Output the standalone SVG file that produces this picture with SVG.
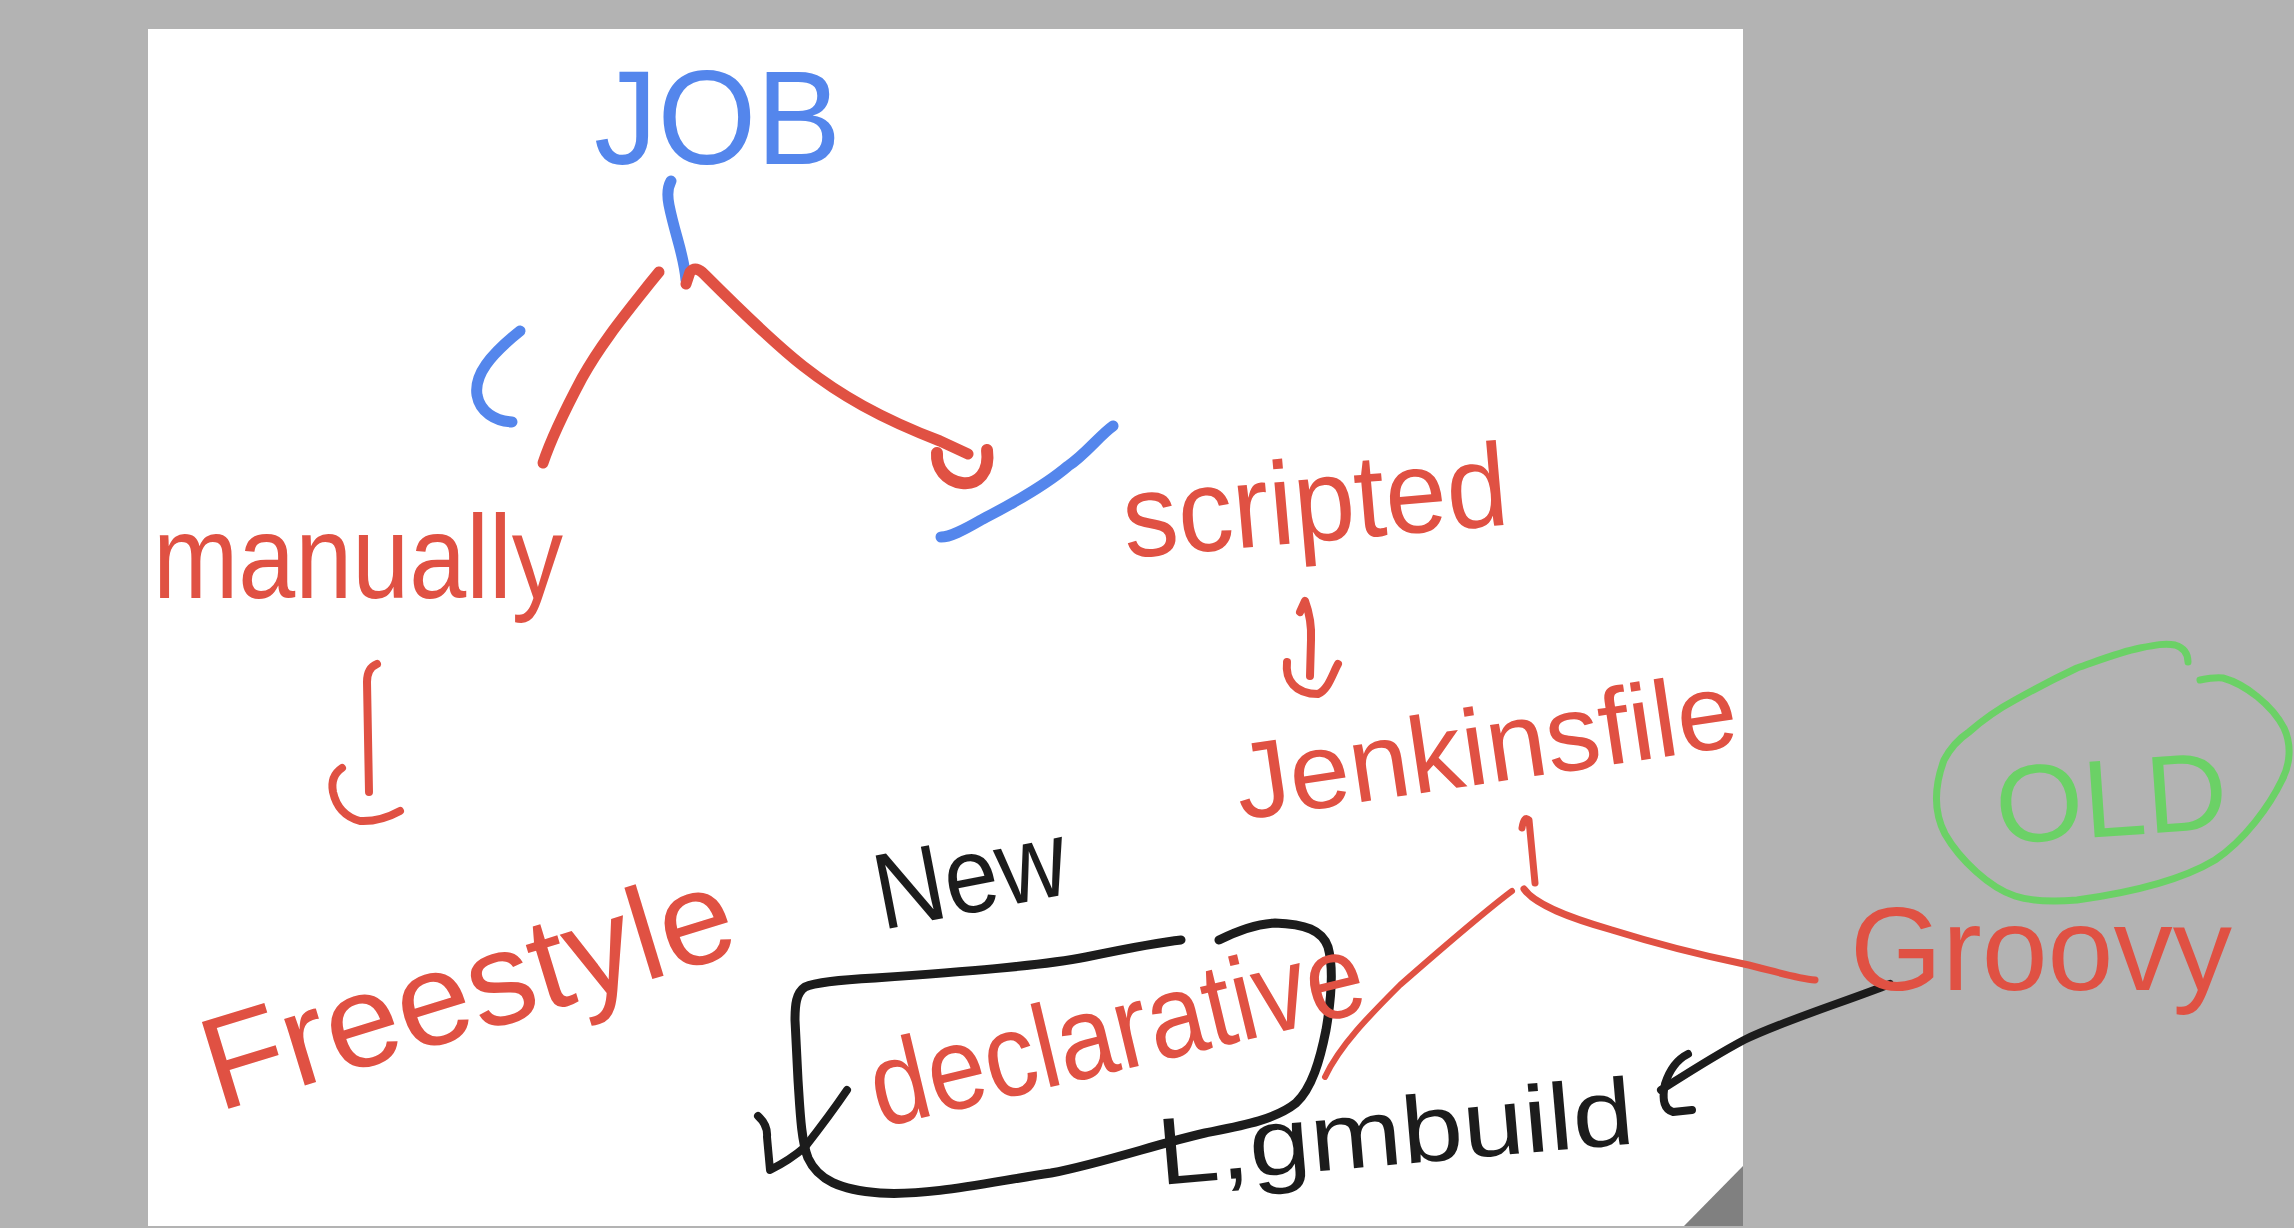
<svg xmlns="http://www.w3.org/2000/svg" width="2294" height="1228" viewBox="0 0 2294 1228">
<style>
.t{font-family:"Liberation Sans","Noto Sans",sans-serif;font-weight:normal}
.red{fill:#e05143}
.blue{fill:#5486ec}
.black{fill:#1c1c1c}
.green{fill:#6bd166}
.s{fill:none;stroke-linecap:round;stroke-linejoin:round}
.sr{stroke:#e05143}
.sb{stroke:#5486ec}
.sk{stroke:#1c1c1c}
.sg{stroke:#6bd166}
</style>
<rect x="0" y="0" width="2294" height="1228" fill="#b3b3b3"/>
<rect x="148" y="29" width="1595" height="1197" fill="#ffffff"/>
<polygon points="1684,1226 1743,1166 1743,1226" fill="#808080"/>

<g id="connectors">
  <path class="s sb" stroke-width="11" d="M 671 181 Q 666 190 669 205 C 675 235 684 255 686 280"/>
  <path class="s sr" stroke-width="11" d="M 659 272 L 650 283 C 628 311 602 342 582 378 C 565 410 552 436 543 463"/>
  <path class="s sr" stroke-width="11" d="M 686 284 L 690 272 Q 696 265 705 275 C 730 300 770 340 803 366 C 840 395 880 418 940 441 L 968 454"/>
  <path class="s sr" stroke-width="12" d="M 987 450 C 990 472 978 485 962 483 C 946 481 936 468 937 453"/>
  <path class="s sb" stroke-width="11" d="M 520 331 C 490 355 474 375 477 395 C 480 412 495 421 512 422"/>
  <path class="s sb" stroke-width="11" d="M 1113 426 C 1100 435 1085 455 1068 466 C 1040 490 1000 510 981 520 C 962 531 950 537 941 537"/>
  <path class="s sr" stroke-width="8" d="M 377 664 Q 367 668 367 682 L 369 792"/>
  <path class="s sr" stroke-width="8" d="M 342 768 Q 330 776 333 792 Q 338 815 360 821 Q 380 822 400 811"/>
  <path class="s sr" stroke-width="8" d="M 1300 612 L 1305 601 Q 1312 620 1311 640 L 1310 676"/>
  <path class="s sr" stroke-width="8" d="M 1287 662 C 1285 680 1295 694 1318 694 C 1328 690 1332 675 1338 664"/>
  <path class="s sr" stroke-width="7" d="M 1522 828 Q 1524 815 1529 820 L 1535 883"/>
  <path class="s sr" stroke-width="6" d="M 1512 891 C 1480 915 1440 950 1400 985 C 1370 1015 1340 1045 1325 1077"/>
  <path class="s sr" stroke-width="7" d="M 1524 889 C 1535 905 1570 918 1612 930 C 1660 945 1700 955 1744 964 C 1770 970 1795 978 1815 980"/>
  <path class="s sk" stroke-width="8" d="M 758 1116 Q 768 1125 767 1137 L 770 1170 Q 790 1160 805 1147 Q 830 1115 847 1090"/>
  <path class="s sk" stroke-width="8" d="M 1890 984 C 1850 1000 1780 1022 1744 1040 C 1712 1057 1680 1078 1661 1090"/>
  <path class="s sk" stroke-width="8" d="M 1688 1054 Q 1672 1062 1665 1084 Q 1660 1108 1673 1112 L 1692 1110"/>
</g>

<g id="job">
  <text class="t blue" x="594" y="164" font-size="133" textLength="247" lengthAdjust="spacingAndGlyphs">JOB</text>
</g>
<g id="manually">
  <text class="t red" x="153" y="598" font-size="118" textLength="410" lengthAdjust="spacingAndGlyphs">manually</text>
</g>
<g id="freestyle">
  <text class="t red" x="218" y="1112" font-size="132" textLength="549" lengthAdjust="spacingAndGlyphs" transform="rotate(-17 218 1112)">Freestyle</text>
</g>
<g id="scripted">
  <text class="t red" x="1126" y="558" font-size="118" textLength="386" lengthAdjust="spacingAndGlyphs" transform="rotate(-5 1126 558)">scripted</text>
</g>
<g id="jenkinsfile">
  <text class="t red" x="1241" y="820" font-size="108" textLength="506" lengthAdjust="spacingAndGlyphs" transform="rotate(-8.5 1241 820)">Jenkinsfile</text>
</g>
<g id="new">
  <text class="t black" x="882" y="930" font-size="108" textLength="194" lengthAdjust="spacingAndGlyphs" transform="rotate(-11 882 930)">New</text>
</g>
<g id="declarative">
  <path class="s sk" stroke-width="9" d="M 1181 940 C 1160 942 1120 950 1086 957 C 1040 966 960 972 875 978 C 840 980 815 982 805 987 C 796 993 795 1005 795 1020 L 798 1080 C 800 1110 801 1140 808 1158 C 818 1180 840 1190 880 1193 C 930 1196 990 1182 1051 1173 C 1100 1164 1160 1143 1205 1133 C 1240 1126 1275 1120 1296 1103 C 1312 1088 1320 1060 1326 1030 C 1332 995 1333 965 1328 947 C 1322 930 1305 924 1275 923 C 1255 924 1235 932 1219 940"/>
  <text class="t red" x="880" y="1128" font-size="118" textLength="505" lengthAdjust="spacingAndGlyphs" transform="rotate(-13.5 880 1128)">declarative</text>
</g>
<g id="build-note">
  <text class="t black" x="1160" y="1185" font-size="95" textLength="478" lengthAdjust="spacingAndGlyphs" transform="rotate(-5 1160 1185)">L,gmbuild</text>
</g>
<g id="groovy">
  <text class="t red" x="1850" y="990" font-size="118" textLength="382" lengthAdjust="spacingAndGlyphs">Groovy</text>
</g>
<g id="old">
  <path class="s sg" stroke-width="7" d="M 2200 680 Q 2215 677 2223 678 C 2245 684 2272 705 2284 728 C 2292 745 2290 765 2282 780 C 2270 805 2245 840 2215 860 C 2190 875 2150 890 2077 900 C 2050 902 2030 901 2015 896 C 1990 888 1960 860 1945 834 C 1935 815 1933 790 1944 760 C 1952 745 1960 738 1969 732 C 1985 718 2000 708 2015 700 C 2040 686 2060 676 2077 668 C 2100 660 2120 652 2140 648 C 2155 645 2165 643 2175 645 C 2185 648 2188 655 2188 662"/>
  <text class="t green" x="1998" y="844" font-size="110" textLength="232" lengthAdjust="spacingAndGlyphs" transform="rotate(-4 1998 844)">OLD</text>
</g>
</svg>
